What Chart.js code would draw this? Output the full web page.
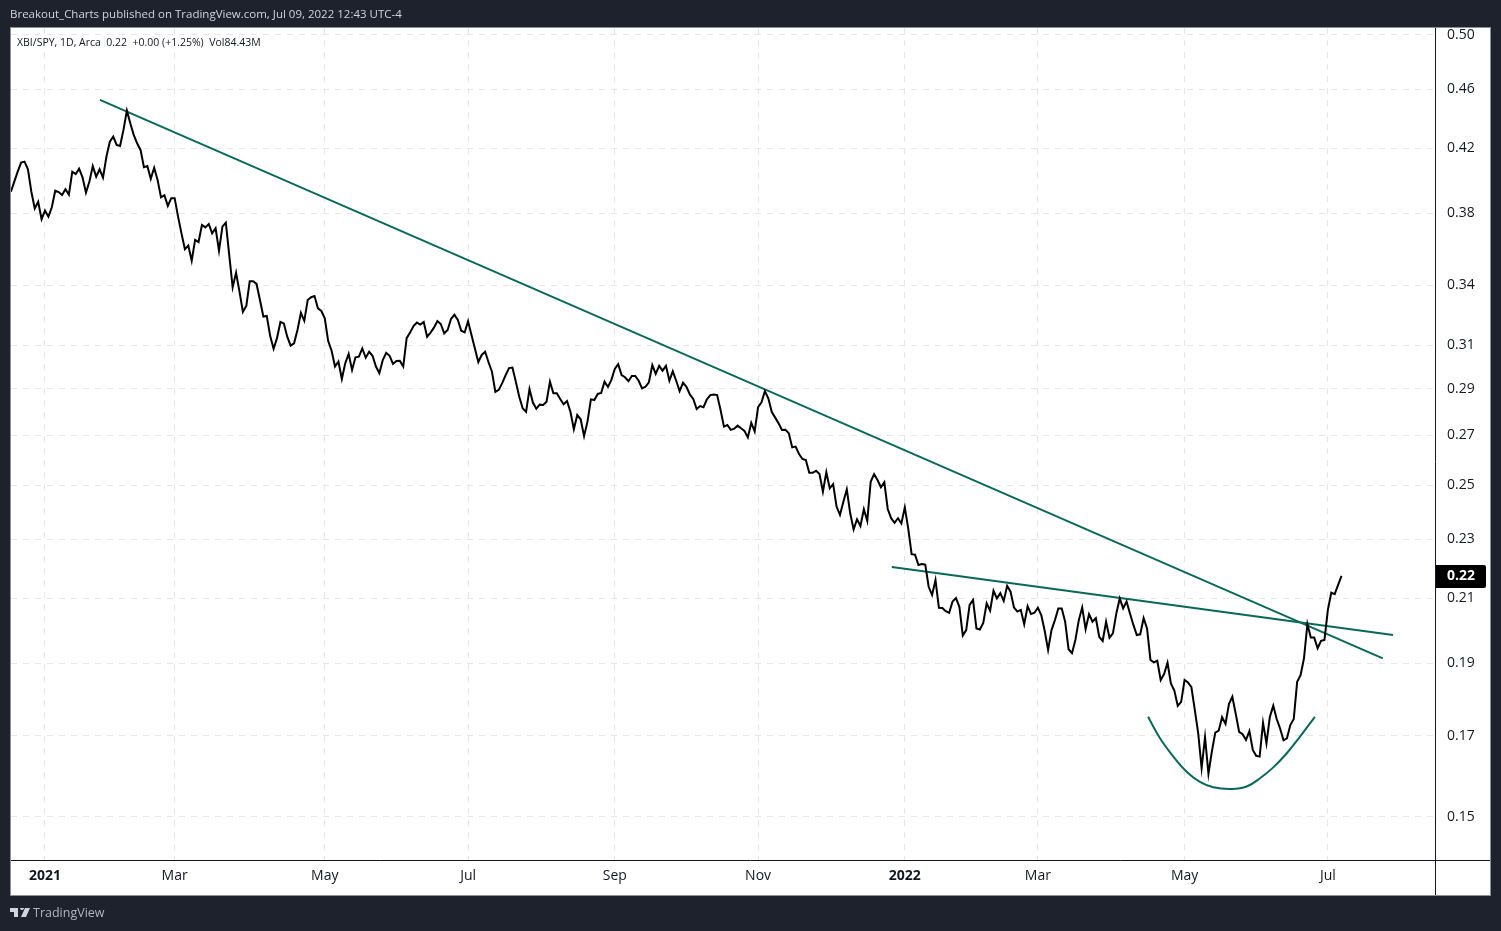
<!DOCTYPE html>
<html>
<head>
<meta charset="utf-8">
<title>XBI/SPY</title>
<script src="https://cdn.jsdelivr.net/npm/chart.js@4"></script>
<style>
html,body{margin:0;padding:0;background:#1e222d;width:1501px;height:931px;overflow:hidden}
canvas{position:absolute;left:0;top:0}
.t{position:absolute;white-space:pre;font-family:"Open Sans",sans-serif}
#head{left:10px;top:6px;font-size:11.5px;line-height:16px;color:#d1d4dc}
#leg{left:17px;top:34px;font-size:10.5px;line-height:16px;color:#131722}
#mark{left:33px;top:904px;font-size:12.5px;line-height:18px;color:#b2b5be}
#logo{position:absolute;left:10px;top:908px}
</style>
</head>
<body>
<canvas id="c" width="1501" height="931"></canvas>
<div class="t" id="head">Breakout_Charts published on TradingView.com, Jul 09, 2022 12:43 UTC-4</div>
<div class="t" id="leg">XBI/SPY, 1D, Arca  0.22  +0.00 (+1.25%)  Vol84.43M</div>
<svg id="logo" width="20" height="10" viewBox="0 0 20 10"><path fill="#d1d4dc" d="M0 0h8v9H4V4H0zM10 0a2 2 0 1 1 0 .01zM15 0h5l-4 9h-5z"/></svg>
<div class="t" id="mark">TradingView</div>
<script>
const firstBar = -10;
const closes = [
.3928,.3989,.4051,.4108,.4114,.4066,.3928,.3828,.3868,.3765,
.3815,.3780,.3835,.3934,.3926,.3908,.3943,.3910,.4051,.4036,
.4070,.4016,.3922,.3989,.4086,.4020,.4066,.4014,.4145,.4242,
.4275,.4221,.4214,.4320,.4450,.4364,.4287,.4232,.4189,.4079,
.4086,.4007,.4076,.4000,.3894,.3907,.3843,.3889,.3889,.3780,
.3684,.3595,.3615,.3532,.3647,.3635,.3732,.3718,.3737,.3684,
.3713,.3587,.3722,.3745,.3563,.3390,.3467,.3368,.3265,.3294,
.3422,.3422,.3408,.3325,.3241,.3244,.3145,.3084,.3135,.3214,
.3207,.3142,.3099,.3110,.3175,.3260,.3220,.3325,.3339,.3345,
.3282,.3269,.3232,.3121,.3075,.3001,.3024,.2944,.3016,.3060,
.2985,.3044,.3047,.3086,.3042,.3070,.3051,.3001,.2970,.3031,
.3065,.3051,.3013,.3027,.3028,.3001,.3135,.3162,.3194,.3211,
.3201,.3214,.3142,.3162,.3186,.3219,.3204,.3158,.3175,.3229,
.3250,.3224,.3171,.3163,.3218,.3150,.3086,.3022,.3055,.3070,
.3021,.2977,.2886,.2895,.2925,.2961,.2994,.2996,.2932,.2865,
.2814,.2799,.2899,.2839,.2812,.2830,.2829,.2843,.2932,.2880,
.2880,.2855,.2832,.2846,.2799,.2725,.2785,.2767,.2696,.2757,
.2853,.2850,.2877,.2881,.2932,.2908,.2940,.2990,.3012,.2962,
.2952,.2934,.2958,.2958,.2936,.2902,.2909,.2929,.3008,.2967,
.3004,.2982,.3004,.2936,.2979,.2936,.2890,.2927,.2909,.2875,
.2855,.2811,.2824,.2819,.2853,.2872,.2874,.2872,.2807,.2736,
.2743,.2722,.2727,.2740,.2729,.2718,.2691,.2752,.2716,.2819,
.2840,.2889,.2858,.2799,.2774,.2750,.2722,.2723,.2708,.2650,
.2653,.2623,.2603,.2599,.2548,.2548,.2556,.2543,.2475,.2550,
.2488,.2504,.2419,.2388,.2437,.2484,.2394,.2335,.2372,.2348,
.2409,.2366,.2513,.2543,.2520,.2492,.2511,.2410,.2376,.2359,
.2376,.2357,.2416,.2339,.2248,.2246,.2211,.2214,.2212,.2138,
.2111,.2160,.2070,.2069,.2059,.2054,.2090,.2101,.2073,.1983,
.2000,.2079,.2095,.2005,.2002,.2022,.2084,.2061,.2125,.2100,
.2117,.2092,.2141,.2122,.2071,.2058,.2063,.2018,.2075,.2050,
.2054,.2070,.2047,.1998,.1940,.2000,.2031,.2068,.2068,.2026,
.1942,.1930,.1970,.2031,.2071,.2003,.2050,.2026,.2037,.1979,
.1967,.2026,.1977,.1990,.2052,.2100,.2068,.2090,.2052,.2016,
.1985,.1987,.2037,.2005,.1910,.1903,.1908,.1852,.1869,.1902,
.1842,.1822,.1780,.1791,.1852,.1845,.1832,.1769,.1706,.1617,
.1696,.1603,.1659,.1708,.1713,.1749,.1731,.1785,.1805,.1758,
.1710,.1704,.1689,.1712,.1663,.1648,.1646,.1734,.1680,.1750,
.1780,.1744,.1719,.1688,.1693,.1728,.1744,.1847,.1866,.1915,
.2019,.1977,.1977,.1945,.1967,.1970,.2063,.2119,.2114,.2144,
.2174];
const longTrendBars = [16.1, 392.1];
const longTrendValues = [.4524, .1915];
const shortTrendBars = [248.2, 395.1];
const shortTrendValues = [.2204, .1985];
const arcBars = [323.3,326.8,330.7,334.6,338.5,342.4,347.8,352.2,356.1,360.0,363.9,367.8,372.2];
const arcValues = [.1750,.1693,.1646,.1608,.1583,.1570,.1566,.1572,.1592,.1619,.1654,.1697,.1750];
const priceTicks = [.50,.46,.42,.38,.34,.31,.29,.27,.25,.23,.21,.19,.17,.15];
const timeTickBars = [0,38,82,124,167,209,252,291,334,376];
const timeTickLabels = ['2021','Mar','May','Jul','Sep','Nov','2022','Mar','May','Jul'];

const lastValue = closes[closes.length-1];
const pts = (xs, ys) => xs.map((x,i)=>({x, y:ys[i]}));
const TEAL = '#08695a';
const FONT = '"Open Sans", sans-serif';

const frame = {
  id:'frame',
  beforeDraw(chart){
    const c = chart.ctx, y = chart.scales.y;
    c.save();
    c.fillStyle='#1e222d'; c.fillRect(0,0,1501,931);
    c.fillStyle='#ffffff'; c.fillRect(10,27,1481,869);
    c.strokeStyle='#8b8f98'; c.lineWidth=1; c.strokeRect(10.5,27.5,1480,868);
    const py = y.getPixelForValue(lastValue);
    c.fillStyle='#000000';
    c.beginPath(); c.roundRect(1436, py-11, 50, 23, [0,2,2,0]); c.fill();
    c.restore();
  },
  afterDraw(chart){
    const c = chart.ctx;
    c.save();
    c.strokeStyle='#131722'; c.lineWidth=1;
    c.beginPath();
    c.moveTo(11,860.5); c.lineTo(1490,860.5);
    c.moveTo(1435.5,28); c.lineTo(1435.5,895);
    c.stroke();
    c.restore();
  }
};

new Chart(document.getElementById('c'), {
  type:'line',
  data:{datasets:[
    {label:'XBI/SPY', data:closes.map((v,i)=>({x:i+firstBar,y:v})), borderColor:'#000000', borderWidth:2, pointRadius:0, tension:0, order:1},
    {label:'Long trend', data:pts(longTrendBars,longTrendValues), borderColor:TEAL, borderWidth:2, pointRadius:0, order:2},
    {label:'Short trend', data:pts(shortTrendBars,shortTrendValues), borderColor:TEAL, borderWidth:2, pointRadius:0, order:2},
    {label:'Base', data:pts(arcBars,arcValues), borderColor:TEAL, borderWidth:2, pointRadius:0, tension:0.4, order:2}
  ]},
  plugins:[frame],
  options:{
    responsive:false, animation:false, devicePixelRatio:1,
    layout:{padding:{left:11,top:28,right:10,bottom:36}},
    plugins:{legend:{display:false},title:{display:false},tooltip:{enabled:false}},
    scales:{
      x:{
        type:'linear', bounds:'data', min:-9.965, max:407.4,
        afterBuildTicks(a){ a.ticks = timeTickBars.map(v=>({value:v})); },
        afterFit(a){ a.height=35; },
        grid:{color:'#e4e6ec', lineWidth:1, drawTicks:false},
        border:{display:false, dash:[6,6]},
        ticks:{
          autoSkip:false, maxRotation:0, padding:8, color:'#131722',
          font:ctx=>{const l=timeTickLabels[timeTickBars.indexOf(ctx.tick&&ctx.tick.value)];
            return /^\d/.test(l||'')?{family:FONT,size:14,weight:'700'}:{family:FONT,size:14};},
          callback:v=>timeTickLabels[timeTickBars.indexOf(v)]
        }
      },
      y:{
        type:'logarithmic', position:'right', bounds:'data', min:.14038, max:.5054,
        afterBuildTicks(a){ a.ticks = priceTicks.concat([lastValue]).map(v=>({value:v})); },
        afterFit(a){ a.width=56; },
        grid:{color:ctx=>(ctx.tick&&ctx.tick.value===lastValue)?'rgba(0,0,0,0)':'#e4e6ec', lineWidth:1, drawTicks:false},
        border:{display:false, dash:[6,6]},
        ticks:{
          autoSkip:false, padding:12, color:ctx=>(ctx.tick&&ctx.tick.value===lastValue)?'#ffffff':'#131722',
          font:ctx=>(ctx.tick&&ctx.tick.value===lastValue)?{family:FONT,size:14,weight:'700'}:{family:FONT,size:14},
          callback:v=>Number(v).toFixed(2)
        }
      }
    }
  }
});
</script>
</body>
</html>
